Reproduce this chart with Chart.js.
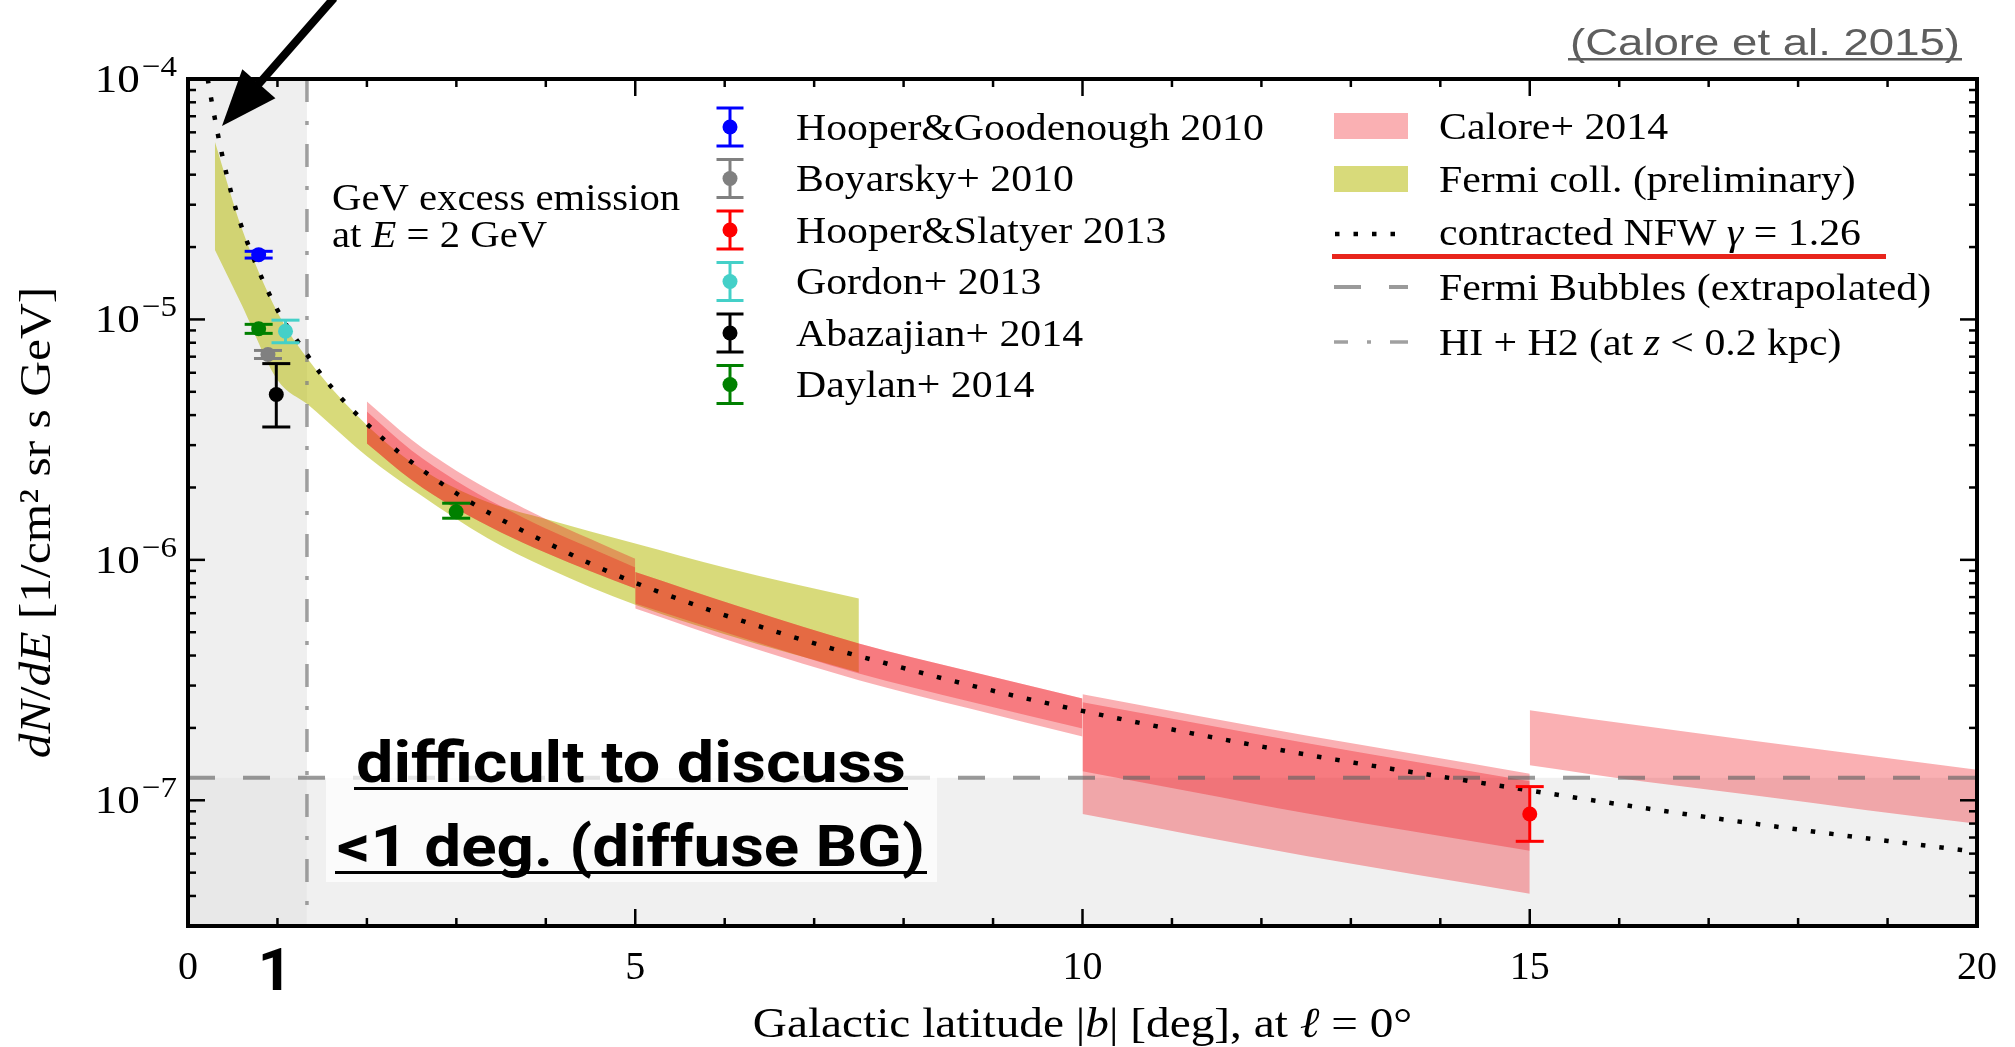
<!DOCTYPE html>
<html lang="en">
<head>
<meta charset="utf-8">
<title>GeV excess latitude profile</title>
<script src="https://cdn.jsdelivr.net/npm/chart.js@4.4.1/dist/chart.umd.min.js"></script>
<style>
  html, body { margin: 0; padding: 0; background: #ffffff; }
  canvas { display: block; }
</style>
</head>
<body>
<canvas id="profile" width="2015" height="1047"></canvas>
<script>
// Latitude profile of the GeV excess at E = 2 GeV, flux in 1/cm^2/sr/s/GeV vs |b| in deg

// contracted NFW, gamma = 1.26
const nfwLat  = [0.22, 0.27, 0.35, 0.44, 0.55, 0.69, 0.85, 1.04, 1.27, 1.51, 1.78, 2.08, 2.39, 2.73, 3.07,
                 3.43, 3.80, 4.74, 5.71, 6.50, 7.29, 7.89, 8.68, 10.1, 12.37, 14.79, 16.66, 18.30, 20.0];
const nfwFlux = [1.0e-4, 7.87e-5, 5.5e-5, 3.89e-5, 2.76e-5, 1.97e-5, 1.42e-5, 1.03e-5, 7.69e-6, 5.77e-6,
                 4.42e-6, 3.45e-6, 2.74e-6, 2.21e-6, 1.82e-6, 1.52e-6, 1.29e-6, 8.8e-7, 6.41e-7, 5.13e-7,
                 4.18e-7, 3.64e-7, 3.05e-7, 2.31e-7, 1.58e-7, 1.13e-7, 8.85e-8, 7.31e-8, 6.1e-8];

// Fermi coll. (preliminary) band
const fermiLat   = [0.3, 0.6, 1.0, 1.35, 2.0, 2.6, 3.35, 4.0, 5.0, 6.0, 7.5];
const fermiUpper = [5.5e-5, 2.4e-5, 1.07e-5, 6.76e-6, 3.63e-6, 2.4e-6, 1.74e-6, 1.48e-6, 1.17e-6, 9.3e-7, 6.9e-7];
const fermiLower = [1.95e-5, 1.15e-5, 5.6e-6, 4.4e-6, 2.7e-6, 1.86e-6, 1.23e-6, 9.3e-7, 6.5e-7, 4.9e-7, 3.4e-7];

// Calore+ 2014, one block per latitude window (two overlapping bands in the first three)
const caloreALat  = [2.0, 2.5, 3.0, 3.5, 4.0, 4.5, 5.0];
const caloreATop1 = [4.56e-6, 3.16e-6, 2.35e-6, 1.84e-6, 1.48e-6, 1.22e-6, 1.01e-6];
const caloreATop2 = [4.14e-6, 2.85e-6, 2.13e-6, 1.67e-6, 1.35e-6, 1.12e-6, 9.3e-7];
const caloreABot  = [3.05e-6, 2.15e-6, 1.63e-6, 1.30e-6, 1.07e-6, 8.97e-7, 7.6e-7];

const caloreBLat  = [5.0, 6.25, 7.5, 8.75, 10.0];
const caloreBTop  = [8.91e-7, 6.24e-7, 4.49e-7, 3.43e-7, 2.65e-7];
const caloreBBot1 = [6.59e-7, 4.68e-7, 3.37e-7, 2.57e-7, 1.99e-7];
const caloreBBot2 = [6.28e-7, 4.37e-7, 3.16e-7, 2.40e-7, 1.84e-7];

const caloreCLat  = [10.0, 11.25, 12.5, 13.75, 15.0];
const caloreCTop1 = [2.76e-7, 2.26e-7, 1.86e-7, 1.55e-7, 1.29e-7];
const caloreCBot1 = [1.32e-7, 1.08e-7, 8.83e-8, 7.36e-8, 6.17e-8];
const caloreCTop2 = [2.56e-7, 2.10e-7, 1.73e-7, 1.44e-7, 1.20e-7];
const caloreCBot2 = [8.77e-8, 7.16e-8, 5.86e-8, 4.89e-8, 4.09e-8];

const caloreDLat  = [15.0, 16.25, 17.5, 18.75, 20.0];
const caloreDTop  = [2.37e-7, 2.04e-7, 1.77e-7, 1.54e-7, 1.34e-7];
const caloreDBot  = [1.40e-7, 1.20e-7, 1.05e-7, 9.12e-8, 7.98e-8];

// point measurements: [|b|, flux, lower, upper]
const hooperGoodenough2010 = [[0.79, 1.86e-5, 1.80e-5, 1.92e-5]];
const boyarsky2010         = [[0.894, 7.15e-6, 6.88e-6, 7.43e-6]];
const hooperSlatyer2013    = [[15.0, 8.77e-8, 6.75e-8, 1.14e-7]];
const gordon2013           = [[1.09, 8.93e-6, 8.0e-6, 9.93e-6]];
const abazajian2014        = [[0.987, 4.87e-6, 3.57e-6, 6.55e-6]];
const daylan2014           = [[0.79, 9.14e-6, 8.75e-6, 9.54e-6], [2.998, 1.585e-6, 1.49e-6, 1.72e-6]];

const pointSeries  = [hooperGoodenough2010, boyarsky2010, hooperSlatyer2013, gordon2013, abazajian2014, daylan2014];
const pointLabels  = ['Hooper&Goodenough 2010', 'Boyarsky+ 2010', 'Hooper&Slatyer 2013', 'Gordon+ 2013', 'Abazajian+ 2014', 'Daylan+ 2014'];
const pointColors  = ['#0000ff', '#808080', '#ff0000', '#44d0c8', '#000000', '#008000'];

// HI + H2 (z < 0.2 kpc) edge and the extrapolated Fermi Bubbles level
const gasEdgeLat  = 1.33;
const bubblesFlux = 1.24e-7;

const xMajorTicks = [0, 5, 10, 15, 20];
const yDecades    = [-4, -5, -6, -7];

const RED_BAND = 'rgba(240,10,20,0.32)';
const YELLOW_BAND = 'rgba(180,185,0,0.52)';
const SERIF = '"Liberation Serif", "DejaVu Serif", serif';
const SANS = 'Roboto, "Noto Sans", "Liberation Sans", sans-serif';
const STRETCH = 1.1;

function pts(xs, ys) {
    return xs.map((x, i) => ({ x: x, y: ys[i] }));
}

// upper edge fills down to the lower edge pushed right after it
function band(xs, upper, lower, color, order) {
    const common = { borderWidth: 0, borderColor: 'transparent', pointRadius: 0, cubicInterpolationMode: 'monotone', order: order };
    return [
        Object.assign({ data: pts(xs, upper), fill: '+1', backgroundColor: color }, common),
        Object.assign({ data: pts(xs, lower), fill: false }, common)
    ];
}

function fontFor(size, italic) {
    return (italic ? 'italic ' : '') + size + 'px ' + SERIF;
}

function runsWidth(ctx, runs, size) {
    let w = 0;
    runs.forEach(r => { ctx.font = fontFor(r[2] || size, r[1]); w += ctx.measureText(r[0]).width; });
    return w * STRETCH;
}

// mixed upright / italic runs, widened a little to look like the TeX face
function drawRuns(ctx, runs, x, y, size, align) {
    const w = runsWidth(ctx, runs, size);
    const x0 = align === 'center' ? x - w / 2 : (align === 'right' ? x - w : x);
    ctx.save();
    ctx.translate(x0, y);
    ctx.scale(STRETCH, 1);
    ctx.textAlign = 'left';
    ctx.textBaseline = 'alphabetic';
    ctx.fillStyle = '#000';
    let ox = 0;
    runs.forEach(r => {
        ctx.font = fontFor(r[2] || size, r[1]);
        ctx.fillText(r[0], ox, r[3] || 0);
        ox += ctx.measureText(r[0]).width;
    });
    ctx.restore();
}

// sans text squeezed/stretched to a given width, optionally underlined
function fitText(ctx, text, x, y, width, font, color, underlineY, underlineW) {
    ctx.save();
    ctx.font = font;
    ctx.fillStyle = color;
    ctx.textBaseline = 'alphabetic';
    const w = ctx.measureText(text).width;
    ctx.translate(x, y);
    ctx.scale(width / w, 1);
    ctx.fillText(text, 0, 0);
    ctx.restore();
    if (underlineY) {
        ctx.fillStyle = color;
        ctx.fillRect(x - 2, underlineY, width + 4, underlineW || 3);
    }
}

function seg(ctx, x1, y1, x2, y2) {
    ctx.beginPath();
    ctx.moveTo(x1, y1);
    ctx.lineTo(x2, y2);
    ctx.stroke();
}

// vertical error bars with caps for the point measurements
const errorBars = {
    id: 'errorBars',
    afterDatasetsDraw(chart) {
        const ctx = chart.ctx, xs = chart.scales.x, ys = chart.scales.y;
        chart.data.datasets.forEach(ds => {
            if (!ds.errorBars) return;
            ctx.save();
            ctx.strokeStyle = ds.pointBackgroundColor;
            ctx.lineWidth = 3;
            ds.data.forEach(p => {
                const px = xs.getPixelForValue(p.x);
                const top = ys.getPixelForValue(p.yMax);
                const bot = ys.getPixelForValue(p.yMin);
                seg(ctx, px, top, px, bot);
                seg(ctx, px - 14, top, px + 14, top);
                seg(ctx, px - 14, bot, px + 14, bot);
            });
            ctx.restore();
        });
    }
};

// frame, inward ticks, axis labels, legend and notes
const decor = {
    id: 'decor',
    afterDraw(chart) {
        const ctx = chart.ctx, a = chart.chartArea;
        const xs = chart.scales.x, ys = chart.scales.y;

        // inward tick marks on all four sides
        ctx.save();
        ctx.strokeStyle = '#000';
        ctx.lineWidth = 2.5;
        for (let v = 0; v <= 20; v++) {
            const px = xs.getPixelForValue(v);
            const len = xMajorTicks.includes(v) ? 17 : 8;
            seg(ctx, px, a.bottom, px, a.bottom - len);
            seg(ctx, px, a.top, px, a.top + len);
        }
        for (let e = -8; e <= -5; e++) {
            for (let m = 1; m <= 9; m++) {
                const v = m * Math.pow(10, e);
                if (v < ys.min * 0.999 || v > ys.max * 1.001) continue;
                const py = ys.getPixelForValue(v);
                const len = m === 1 ? 17 : 8;
                seg(ctx, a.left, py, a.left + len, py);
                seg(ctx, a.right, py, a.right - len, py);
            }
        }
        ctx.lineWidth = 4;
        ctx.strokeRect(a.left, a.top, a.right - a.left, a.bottom - a.top);
        ctx.restore();

        // y tick labels as powers of ten
        yDecades.forEach(e => {
            const py = ys.getPixelForValue(Math.pow(10, e));
            const sup = [['\u2212' + Math.abs(e), false, 30]];
            const supW = runsWidth(ctx, sup, 30);
            drawRuns(ctx, sup, a.left - 11, py - 3, 30, 'right');
            drawRuns(ctx, [['10', false]], a.left - 13 - supW, py + 13, 41, 'right');
        });

        // axis titles
        drawRuns(ctx, [['Galactic latitude |', false], ['b', true], ['| [deg], at ', false], ['\u2113', true], [' = 0\u00b0', false]],
            (a.left + a.right) / 2, 1037, 43, 'center');
        ctx.save();
        ctx.translate(50, (a.top + a.bottom) / 2 + 20);
        ctx.rotate(-Math.PI / 2);
        drawRuns(ctx, [['d', true], ['N', true], ['/', false], ['d', true], ['E', true], [' [1/cm\u00b2 sr s GeV]', false]],
            0, 0, 45, 'center');
        ctx.restore();

        // note inside the plot
        drawRuns(ctx, [['GeV excess emission', false]], 332, 210, 37, 'left');
        drawRuns(ctx, [['at ', false], ['E', true], [' = 2 GeV', false]], 332, 247, 37, 'left');

        // legend, left column: measurements
        pointLabels.forEach((label, i) => {
            const base = 139.5 + i * 51.5, cy = base - 12.5, cx = 730;
            ctx.save();
            ctx.strokeStyle = pointColors[i];
            ctx.fillStyle = pointColors[i];
            ctx.lineWidth = 3;
            seg(ctx, cx, cy - 19, cx, cy + 19);
            seg(ctx, cx - 13.5, cy - 19, cx + 13.5, cy - 19);
            seg(ctx, cx - 13.5, cy + 19, cx + 13.5, cy + 19);
            ctx.beginPath();
            ctx.arc(cx, cy, 7.5, 0, Math.PI * 2);
            ctx.fill();
            ctx.restore();
            drawRuns(ctx, [[label, false]], 796, base, 38, 'left');
        });

        // legend, right column: bands and lines
        const bx = 1334, bw = 74, tx = 1439;
        const rows = [139, 192, 245, 300, 355];
        ctx.save();
        ctx.fillStyle = RED_BAND;
        ctx.fillRect(bx, rows[0] - 26, bw, 26);
        ctx.fillStyle = YELLOW_BAND;
        ctx.fillRect(bx, rows[1] - 26, bw, 26);
        ctx.strokeStyle = '#000';
        ctx.lineWidth = 4.5;
        ctx.setLineDash([4.5, 14]);
        seg(ctx, bx + 1, rows[2] - 11, bx + 64, rows[2] - 11);
        ctx.strokeStyle = 'rgba(100,100,100,0.65)';
        ctx.lineWidth = 4;
        ctx.setLineDash([27, 28]);
        seg(ctx, bx, rows[3] - 13, bx + bw, rows[3] - 13);
        ctx.strokeStyle = 'rgba(128,128,128,0.75)';
        ctx.lineWidth = 3.5;
        ctx.setLineDash([23, 19, 4, 19]);
        ctx.lineDashOffset = 9;
        seg(ctx, bx, rows[4] - 13, bx + bw, rows[4] - 13);
        ctx.restore();
        drawRuns(ctx, [['Calore+ 2014', false]], tx, rows[0], 38, 'left');
        drawRuns(ctx, [['Fermi coll. (preliminary)', false]], tx, rows[1], 38, 'left');
        drawRuns(ctx, [['contracted NFW ', false], ['\u03b3', true], [' = 1.26', false]], tx, rows[2], 38, 'left');
        drawRuns(ctx, [['Fermi Bubbles (extrapolated)', false]], tx, rows[3], 38, 'left');
        drawRuns(ctx, [['HI + H2 (at ', false], ['z', true], [' < 0.2 kpc)', false]], tx, rows[4], 38, 'left');

        // red underline under the NFW entry
        ctx.fillStyle = '#e8251c';
        ctx.fillRect(1332, 254, 554, 5);

        // low-latitude note box
        ctx.fillStyle = 'rgba(255,255,255,0.72)';
        ctx.fillRect(326, 728, 611, 154);
        fitText(ctx, 'difficult to discuss', 356, 782, 550, 'bold 57px ' + SANS, '#000', 787, 3);
        fitText(ctx, '<1 deg. (diffuse BG)', 337, 866, 588, 'bold 57px ' + SANS, '#000', 871, 3);

        // big "1" under the axis
        ctx.save();
        ctx.font = 'bold 60px ' + SANS;
        ctx.fillStyle = '#000';
        ctx.textAlign = 'center';
        ctx.fillText('1', 275, 990);
        ctx.restore();

        // citation
        fitText(ctx, '(Calore et al. 2015)', 1570, 55, 390, '37px "Liberation Sans", Arial, sans-serif', '#5e5e5e', 58, 2.5);

        // arrow pointing at the innermost NFW point
        const tip = [222, 126], from = [334, -2];
        const dx = tip[0] - from[0], dy = tip[1] - from[1];
        const L = Math.hypot(dx, dy), ux = dx / L, uy = dy / L;
        const head = 56, half = 22;
        const bcx = tip[0] - ux * head, bcy = tip[1] - uy * head;
        ctx.save();
        ctx.strokeStyle = '#000';
        ctx.fillStyle = '#000';
        ctx.lineWidth = 8;
        seg(ctx, from[0], from[1], bcx + ux * 4, bcy + uy * 4);
        ctx.beginPath();
        ctx.moveTo(tip[0], tip[1]);
        ctx.lineTo(bcx - uy * half, bcy + ux * half);
        ctx.lineTo(bcx + uy * half, bcy - ux * half);
        ctx.closePath();
        ctx.fill();
        ctx.restore();
    }
};

const datasets = [];

// shaded regions: the gas-dominated strip and everything below the bubbles level
datasets.push({ data: [{ x: 0, y: 1e-4 }, { x: gasEdgeLat, y: 1e-4 }], fill: 'start', backgroundColor: 'rgba(0,0,0,0.063)',
    borderWidth: 0, borderColor: 'transparent', pointRadius: 0, order: 30 });
datasets.push({ data: [{ x: gasEdgeLat, y: bubblesFlux }, { x: 20, y: bubblesFlux }], fill: 'start', backgroundColor: 'rgba(0,0,0,0.06)',
    borderWidth: 0, borderColor: 'transparent', pointRadius: 0, order: 30 });
datasets.push({ data: [{ x: 0, y: bubblesFlux }, { x: gasEdgeLat, y: bubblesFlux }], fill: 'start', backgroundColor: 'rgba(0,0,0,0.03)',
    borderWidth: 0, borderColor: 'transparent', pointRadius: 0, order: 30 });

datasets.push(...band(fermiLat, fermiUpper, fermiLower, YELLOW_BAND, 20));

datasets.push(...band(caloreALat, caloreATop1, caloreABot, RED_BAND, 15));
datasets.push(...band(caloreALat, caloreATop2, caloreABot, RED_BAND, 15));
datasets.push(...band(caloreBLat, caloreBTop, caloreBBot1, RED_BAND, 15));
datasets.push(...band(caloreBLat, caloreBTop, caloreBBot2, RED_BAND, 15));
datasets.push(...band(caloreCLat, caloreCTop1, caloreCBot1, RED_BAND, 15));
datasets.push(...band(caloreCLat, caloreCTop2, caloreCBot2, RED_BAND, 15));
datasets.push(...band(caloreDLat, caloreDTop, caloreDBot, RED_BAND, 15));

// Fermi Bubbles level and HI + H2 edge
datasets.push({ data: [{ x: 0, y: bubblesFlux }, { x: 20, y: bubblesFlux }], fill: false,
    borderColor: 'rgba(100,100,100,0.65)', borderWidth: 4, borderDash: [27, 28], pointRadius: 0, order: 10 });
datasets.push({ data: [{ x: gasEdgeLat, y: 1e-4 }, { x: gasEdgeLat, y: 3e-8 }], fill: false,
    borderColor: 'rgba(128,128,128,0.75)', borderWidth: 3.5, borderDash: [23, 19, 4, 19], pointRadius: 0, order: 10 });

// contracted NFW profile, dotted
datasets.push({ data: pts(nfwLat, nfwFlux), fill: false, borderColor: '#000', borderWidth: 4.5,
    borderDash: [4.5, 14], borderCapStyle: 'butt', pointRadius: 0, cubicInterpolationMode: 'monotone', order: 5 });

pointSeries.forEach((rows, i) => {
    datasets.push({
        label: pointLabels[i],
        data: rows.map(r => ({ x: r[0], y: r[1], yMin: r[2], yMax: r[3] })),
        showLine: false,
        pointRadius: 7.5,
        pointHoverRadius: 7.5,
        pointBorderWidth: 0,
        pointBackgroundColor: pointColors[i],
        borderColor: pointColors[i],
        errorBars: true,
        order: 0
    });
});

new Chart(document.getElementById('profile'), {
    type: 'line',
    data: { datasets: datasets },
    options: {
        responsive: false,
        animation: false,
        devicePixelRatio: 1,
        layout: { padding: { top: 79, right: 35, left: 0, bottom: 0 } },
        plugins: {
            legend: { display: false },
            tooltip: { enabled: false },
            filler: { propagate: false }
        },
        scales: {
            x: {
                type: 'linear',
                min: 0,
                max: 20,
                grid: { display: false, drawTicks: false },
                border: { display: false },
                ticks: {
                    stepSize: 5,
                    autoSkip: false,
                    maxRotation: 0,
                    padding: 18,
                    color: '#000',
                    font: { family: SERIF, size: 40 }
                },
                afterFit(scale) { scale.height = 121; }
            },
            y: {
                type: 'logarithmic',
                min: 3e-8,
                max: 1e-4,
                grid: { display: false, drawTicks: false },
                border: { display: false },
                ticks: { display: false },
                afterFit(scale) { scale.width = 188; }
            }
        }
    },
    plugins: [errorBars, decor]
});
</script>
</body>
</html>
